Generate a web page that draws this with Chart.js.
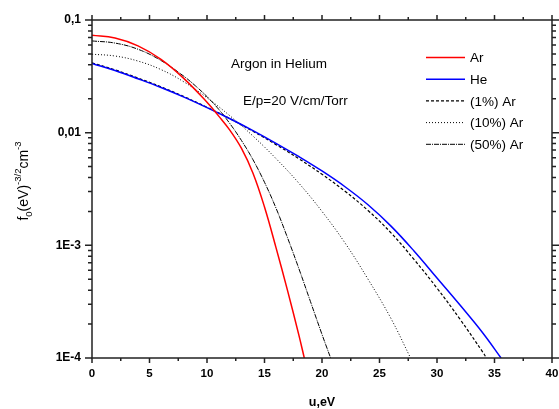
<!DOCTYPE html>
<html>
<head>
<meta charset="utf-8">
<script src="https://cdn.jsdelivr.net/npm/chart.js@4"></script>
<style>
  body { margin: 0; background: #fff; }
</style>
</head>
<body>
<canvas id="myChart" width="559" height="409"></canvas>
<script>
// energy u (eV) and distribution f0
const arU = [0, 2, 4, 6, 8, 10, 11, 12, 13, 14, 15, 16, 17, 18, 18.46];
const arF = [0.0731, 0.0692, 0.0589, 0.0447, 0.0302, 0.0186, 0.0141, 0.01047, 0.00724, 0.00437, 0.00219, 0.000955, 0.000398, 0.000158, 0.0001];

const heU = [0, 2, 4, 6, 8, 10, 12, 14, 16, 18, 20, 22, 24, 26, 28, 30, 32, 34, 35.57];
const heF = [0.0412, 0.0356, 0.0301, 0.0252, 0.0207, 0.0167, 0.0133, 0.01044, 0.00805, 0.00612, 0.00457, 0.00331, 0.00229, 0.00148, 0.000891, 0.000513, 0.000295, 0.000166, 0.0001];

const ar1U = [0, 2, 4, 6, 8, 10, 12, 14, 16, 18, 20, 22, 24, 26, 28, 30, 32, 34, 34.3];
const ar1F = [0.0417, 0.0361, 0.0305, 0.0255, 0.0209, 0.0168, 0.0133, 0.01028, 0.00783, 0.00586, 0.00427, 0.00302, 0.00204, 0.00129, 0.00075, 0.000417, 0.000221, 0.000112, 0.0001];

const ar10U = [0, 2, 4, 6, 8, 10, 12, 14, 16, 18, 20, 22, 24, 26, 27.7];
const ar10F = [0.0497, 0.0479, 0.0432, 0.0363, 0.0282, 0.0204, 0.0141, 0.00933, 0.00589, 0.00355, 0.002, 0.00105, 0.000501, 0.000224, 0.0001];

const ar50U = [0, 2, 4, 6, 8, 9, 10, 11, 12, 13, 14, 15, 16, 17, 18, 19, 20, 20.75];
const ar50F = [0.0652, 0.0624, 0.055, 0.0437, 0.0316, 0.026, 0.0209, 0.0162, 0.012, 0.00851, 0.00575, 0.00363, 0.00214, 0.00117, 0.000617, 0.000316, 0.000162, 0.0001];

const xTicks = [0, 5, 10, 15, 20, 25, 30, 35, 40];
const xMinor = [2.5, 7.5, 12.5, 17.5, 22.5, 27.5, 32.5, 37.5];
const yTicks = [0.0001, 0.001, 0.01, 0.1];
const yTickLabels = ["1E-4", "1E-3", "0,01", "0,1"];

const FONT = "'Liberation Sans', Arial, sans-serif";

function pts(u, f) {
  return u.map((x, i) => ({ x: x, y: f[i] }));
}

// box round the plot, ticks on all four sides
const framePlugin = {
  id: "frame",
  afterDatasetsDraw(chart) {
    const { ctx, chartArea: a, scales } = chart;
    const xs = scales.x, ys = scales.y;
    ctx.save();
    ctx.strokeStyle = "#222";
    ctx.lineWidth = 1.5;
    ctx.strokeRect(a.left, a.top, a.right - a.left, a.bottom - a.top);
    ctx.beginPath();
    const xt = (v, len) => {
      const p = xs.getPixelForValue(v);
      ctx.moveTo(p, a.bottom); ctx.lineTo(p, a.bottom + len);
      ctx.moveTo(p, a.top); ctx.lineTo(p, a.top - len);
    };
    xTicks.forEach(v => xt(v, 5));
    xMinor.forEach(v => xt(v, 3));
    const yt = (v, len) => {
      const p = ys.getPixelForValue(v);
      ctx.moveTo(a.left, p); ctx.lineTo(a.left - len, p);
      ctx.moveTo(a.right, p); ctx.lineTo(a.right + len, p);
    };
    yTicks.forEach(v => yt(v, 7));
    [0.0001, 0.001, 0.01].forEach(d => {
      for (let k = 2; k < 10; k++) yt(d * k, 4);
    });
    ctx.stroke();
    ctx.restore();
  },
  afterDraw(chart) {
    const ctx = chart.ctx;
    ctx.save();
    ctx.fillStyle = "#000";
    // annotations
    ctx.font = "13.5px " + FONT;
    ctx.textBaseline = "alphabetic";
    ctx.fillText("Argon in Helium", 231, 68);
    ctx.fillText("E/p=20 V/cm/Torr", 243, 105);

    // legend
    chart.data.datasets.forEach((ds, i) => {
      const y = 57.5 + i * 21.7;
      ctx.save();
      ctx.strokeStyle = ds.borderColor;
      ctx.lineWidth = ds.borderWidth;
      ctx.setLineDash(ds.borderDash || []);
      ctx.beginPath();
      ctx.moveTo(426, y); ctx.lineTo(465, y);
      ctx.stroke();
      ctx.restore();
      ctx.textBaseline = "middle";
      ctx.fillText(ds.label, 470, y + 1);
    });

    // x title
    ctx.font = "bold 12.5px " + FONT;
    ctx.textAlign = "center";
    ctx.textBaseline = "alphabetic";
    ctx.fillText("u,eV", 322, 406);

    // y title, rotated, with sub/superscripts
    ctx.translate(28, 181);
    ctx.rotate(-Math.PI / 2);
    ctx.textAlign = "left";
    const big = "14px " + FONT, small = "9.5px " + FONT;
    const parts = [
      ["f", big, 0], ["0", small, 4], ["(eV)", big, 0], ["-3/2", small, -7],
      ["cm", big, 0], ["-3", small, -7]
    ];
    let w = 0;
    parts.forEach(p => { ctx.font = p[1]; w += ctx.measureText(p[0]).width; });
    let x = -w / 2;
    parts.forEach(p => {
      ctx.font = p[1];
      ctx.fillText(p[0], x, p[2]);
      x += ctx.measureText(p[0]).width;
    });
    ctx.restore();
  }
};

const ctx = document.getElementById("myChart").getContext("2d");
const myChart = new Chart(ctx, {
  type: "line",
  data: {
    datasets: [
      {
        label: "Ar",
        data: pts(arU, arF),
        borderColor: "#ff0000",
        borderWidth: 1.5,
      },
      {
        label: "He",
        data: pts(heU, heF),
        borderColor: "#0000ff",
        borderWidth: 1.5,
      },
      {
        label: "(1%) Ar",
        data: pts(ar1U, ar1F),
        borderColor: "#000",
        borderWidth: 1.2,
        borderDash: [3, 2],
      },
      {
        label: "(10%) Ar",
        data: pts(ar10U, ar10F),
        borderColor: "#000",
        borderWidth: 1,
        borderDash: [1, 2],
      },
      {
        label: "(50%) Ar",
        data: pts(ar50U, ar50F),
        borderColor: "#000",
        borderWidth: 1,
        borderDash: [5, 1, 1, 1],
      },
    ],
  },
  options: {
    responsive: false,
    animation: false,
    elements: {
      point: { radius: 0 },
      line: { tension: 0.4, fill: false },
    },
    layout: { padding: { top: 20, right: 7, left: 0, bottom: 0 } },
    plugins: {
      legend: { display: false },
      tooltip: { enabled: false },
    },
    scales: {
      x: {
        type: "linear",
        min: 0,
        max: 40,
        afterBuildTicks: s => { s.ticks = xTicks.map(v => ({ value: v })); },
        afterFit: s => { s.height = 51; s.paddingLeft = 0; s.paddingRight = 0; },
        grid: { display: false, drawTicks: false },
        border: { display: false },
        ticks: {
          color: "#000",
          padding: 9,
          maxRotation: 0,
          autoSkip: false,
          font: { family: FONT, size: 11.5, weight: "bold" },
        },
      },
      y: {
        type: "logarithmic",
        min: 0.0001,
        max: 0.1,
        afterBuildTicks: s => { s.ticks = yTicks.map(v => ({ value: v })); },
        afterFit: s => { s.width = 92; s.paddingTop = 0; s.paddingBottom = 0; },
        grid: { display: false, drawTicks: false },
        border: { display: false },
        ticks: {
          color: "#000",
          padding: 11,
          autoSkip: false,
          font: { family: FONT, size: 12, weight: "bold" },
          callback: (v, i) => yTickLabels[i],
        },
      },
    },
  },
  plugins: [framePlugin],
});
</script>
</body>
</html>
